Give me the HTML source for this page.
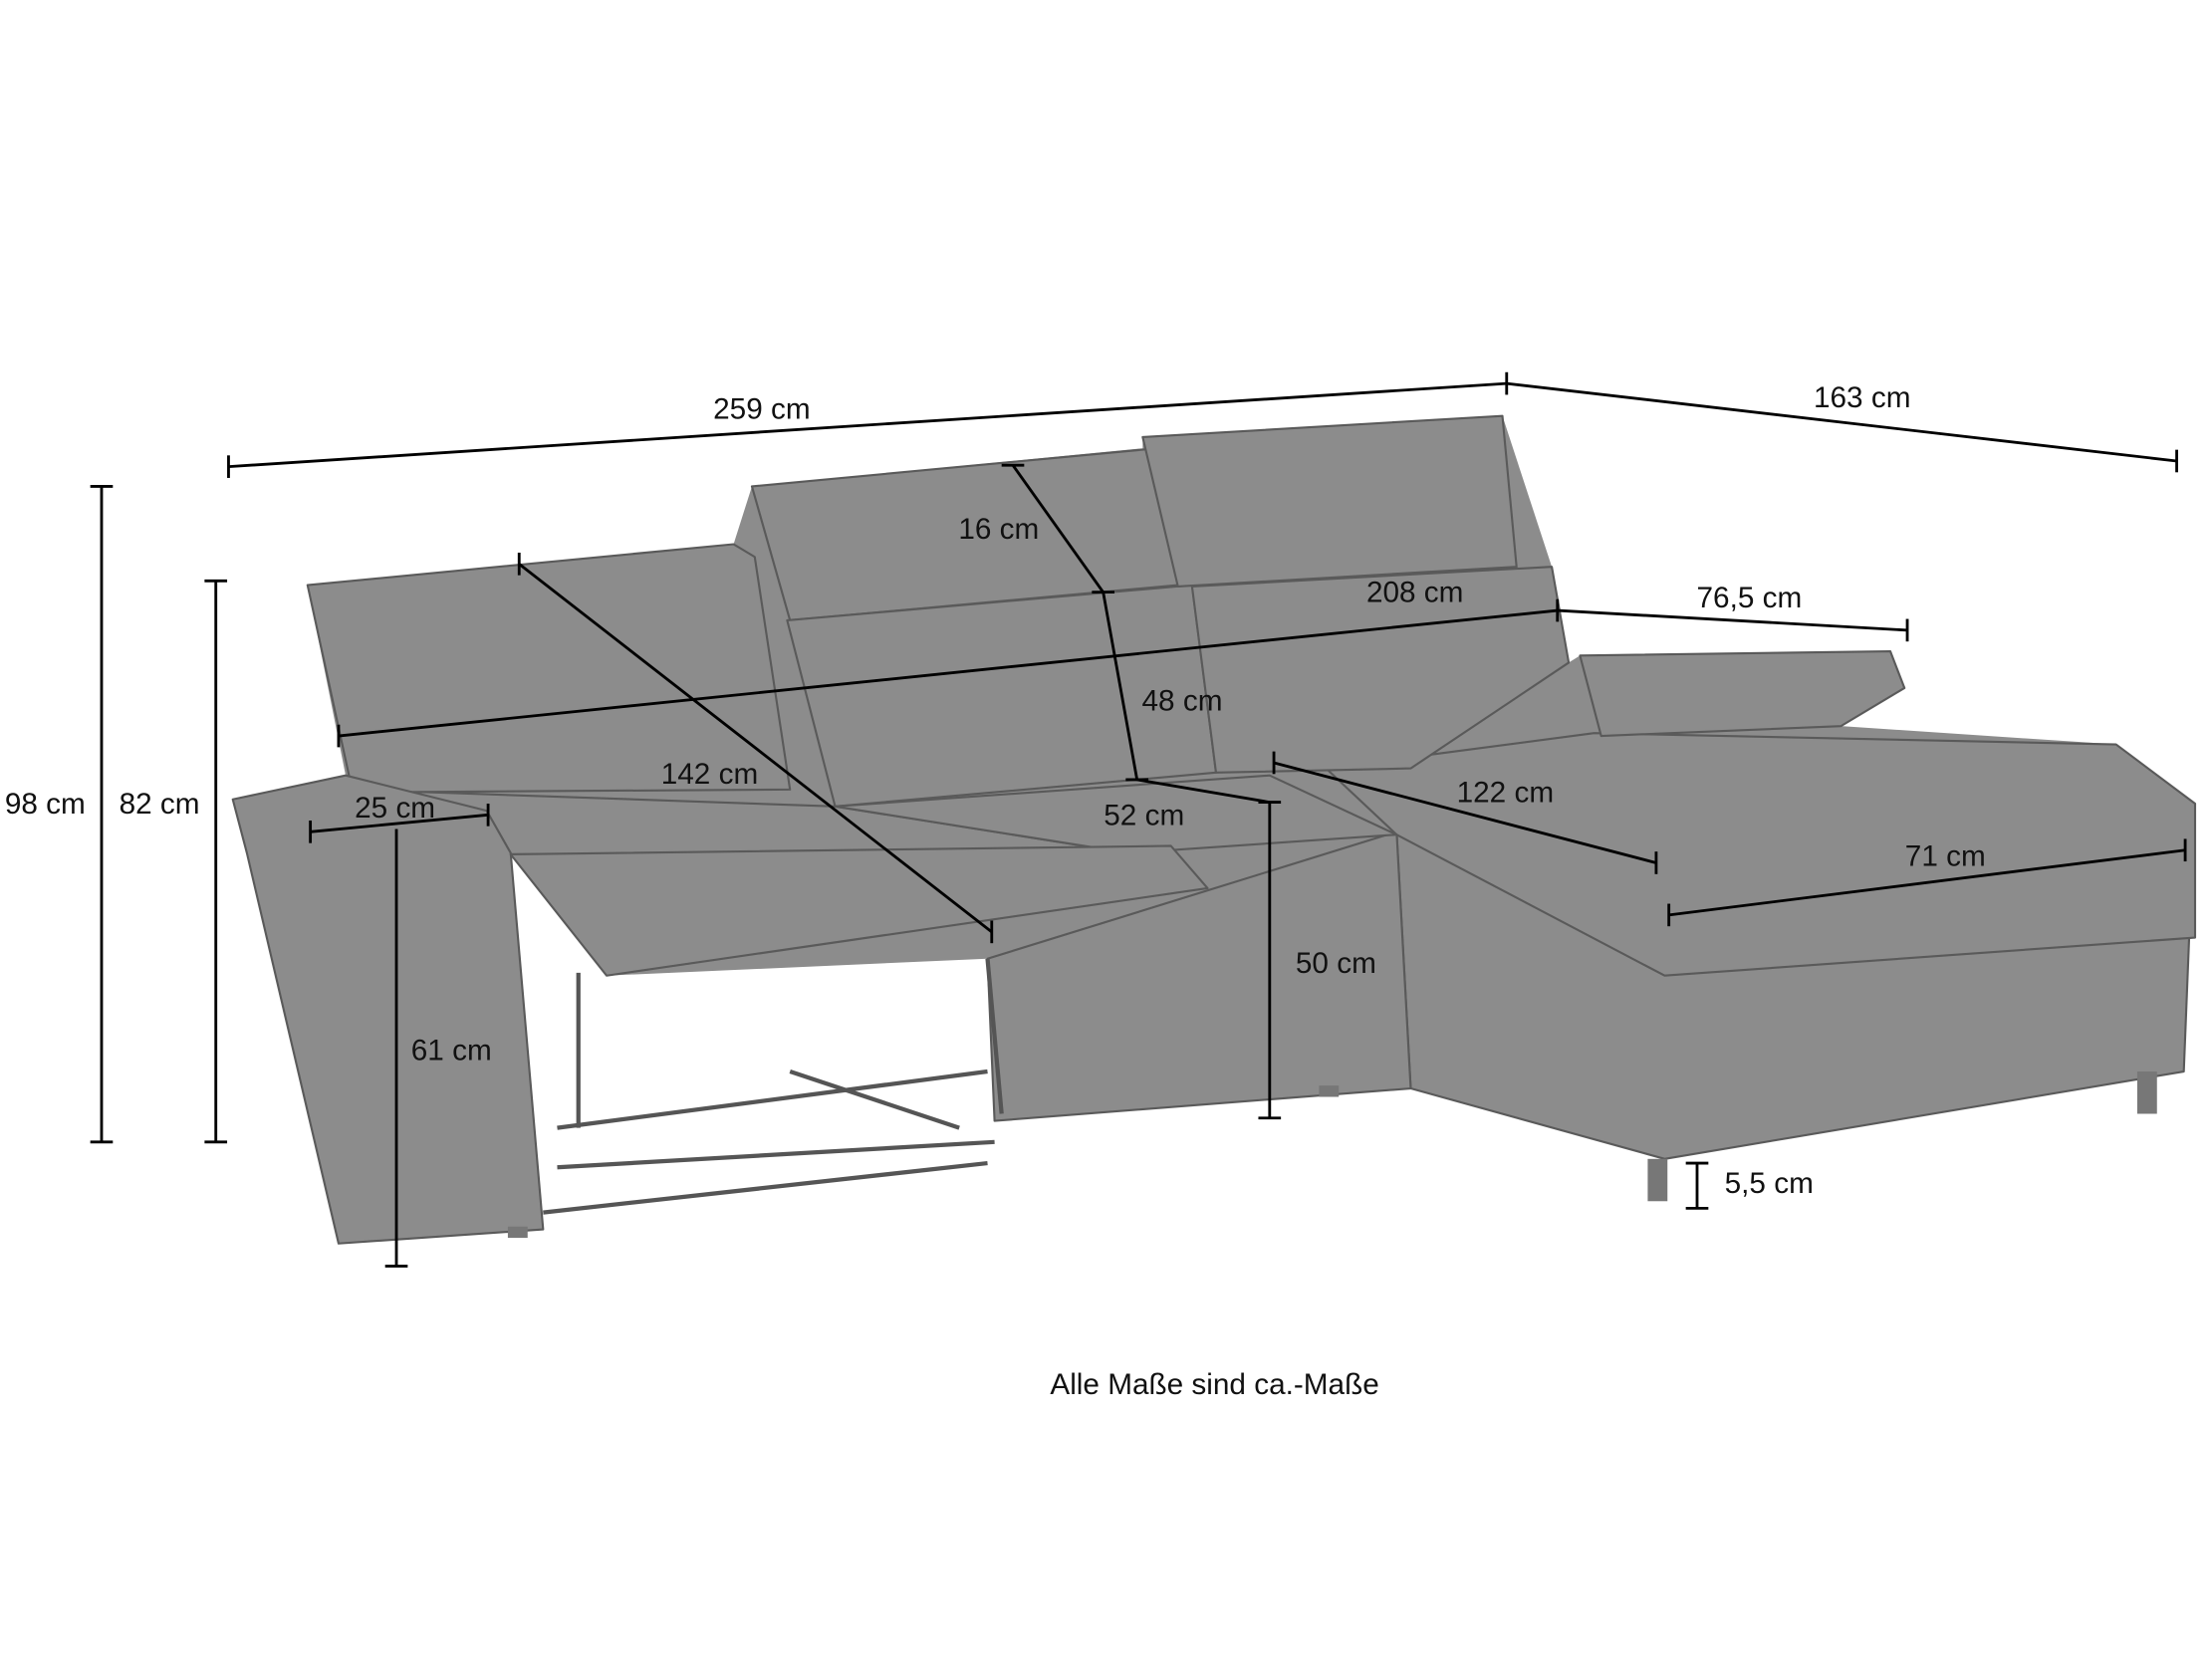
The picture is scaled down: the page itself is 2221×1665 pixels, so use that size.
<!DOCTYPE html>
<html><head><meta charset="utf-8"><style>
html,body{margin:0;padding:0;background:#fff;}
svg{display:block;}
text{font-family:"Liberation Sans Narrow","Liberation Sans",sans-serif;font-size:21px;fill:#111;}
</style></head><body>
<svg width="2221" height="1665" viewBox="0 0 1568 1176" preserveAspectRatio="none" xmlns="http://www.w3.org/2000/svg">
<rect width="1568" height="1176" fill="#fff"/>
<polygon fill="#8c8c8c" points="218,415 520,386 533,345 810,318 810,310 1065,295 1100,402 1112,470 1120,465 1340,462 1350,488 1305,515 1500,528 1556,570 1552,660 1548,760 1180,822 1000,772 705,795 700,680 430,692 362,606 245,550"/>
<g fill="#8c8c8c" stroke="#5a5a5a" stroke-width="1.5" stroke-linejoin="round">
<polygon points="990,590 1180,690 1552,660 1548,760 1180,822 1000,772"/>
<polygon points="700,680 990,590 1000,772 705,795"/>
<polygon points="940,545 1130,520 1500,528 1556,570 1556,665 1180,692 990,592"/>
<polygon points="250,560 592,572 800,605 362,606"/>
<polygon points="218,415 520,386 535,395 560,560 250,562"/>
<polygon points="533,345 820,318 835,415 560,440"/>
<polygon points="558,440 845,415 862,548 592,572"/>
<polygon points="810,310 1065,295 1075,402 835,416"/>
<polygon points="845,416 1100,402 1112,470 1000,545 862,548"/>
<polygon points="1120,465 1340,462 1350,488 1305,515 1135,522"/>
<polygon points="592,572 900,550 990,592 800,605"/>
<polygon points="165,567 245,550 345,575 362,605 385,872 240,882 175,605"/>
<polygon points="362,606 830,600 856,630 430,692"/>
</g>
<g stroke="#555" stroke-width="3" fill="none">
<line x1="395" y1="800" x2="700" y2="760"/>
<line x1="395" y1="828" x2="705" y2="810"/>
<line x1="385" y1="860" x2="700" y2="825"/>
<line x1="560" y1="760" x2="680" y2="800"/>
<line x1="410" y1="690" x2="410" y2="800"/>
<line x1="700" y1="680" x2="710" y2="790"/>
</g>
<g fill="#777"><rect x="1168" y="822" width="14" height="30"/><rect x="1515" y="760" width="14" height="30"/><rect x="360" y="870" width="14" height="8"/><rect x="935" y="770" width="14" height="8"/></g>
<g stroke="#000" stroke-width="2" fill="none">
<line x1="162" y1="331" x2="1068" y2="272"/><line x1="162" y1="323" x2="162" y2="339"/><line x1="1068" y1="264" x2="1068" y2="280"/>
<line x1="1068" y1="272" x2="1543" y2="327"/><line x1="1543" y1="319" x2="1543" y2="335"/>
<line x1="72" y1="345" x2="72" y2="810"/><line x1="64" y1="345" x2="80" y2="345"/><line x1="64" y1="810" x2="80" y2="810"/>
<line x1="153" y1="412" x2="153" y2="810"/><line x1="145" y1="412" x2="161" y2="412"/><line x1="145" y1="810" x2="161" y2="810"/>
<line x1="718" y1="330" x2="782" y2="420"/><line x1="710" y1="330" x2="726" y2="330"/><line x1="774" y1="420" x2="790" y2="420"/>
<line x1="782" y1="420" x2="806" y2="553"/><line x1="798" y1="553" x2="814" y2="553"/>
<line x1="240" y1="522" x2="1104" y2="433"/><line x1="240" y1="514" x2="240" y2="530"/><line x1="1104" y1="425" x2="1104" y2="441"/>
<line x1="1104" y1="433" x2="1352" y2="447"/><line x1="1352" y1="439" x2="1352" y2="455"/>
<line x1="368" y1="400" x2="703" y2="661"/><line x1="368" y1="392" x2="368" y2="408"/><line x1="703" y1="653" x2="703" y2="669"/>
<line x1="806" y1="553" x2="900" y2="569"/>
<line x1="903" y1="541" x2="1174" y2="612"/><line x1="903" y1="533" x2="903" y2="549"/><line x1="1174" y1="604" x2="1174" y2="620"/>
<line x1="1183" y1="649" x2="1549" y2="603"/><line x1="1183" y1="641" x2="1183" y2="657"/><line x1="1549" y1="595" x2="1549" y2="611"/>
<line x1="220" y1="590" x2="346" y2="578"/><line x1="220" y1="582" x2="220" y2="598"/><line x1="346" y1="570" x2="346" y2="586"/>
<line x1="281" y1="588" x2="281" y2="898"/><line x1="273" y1="898" x2="289" y2="898"/>
<line x1="900" y1="569" x2="900" y2="793"/><line x1="892" y1="569" x2="908" y2="569"/><line x1="892" y1="793" x2="908" y2="793"/>
<line x1="1203" y1="825" x2="1203" y2="857"/><line x1="1195" y1="825" x2="1211" y2="825"/><line x1="1195" y1="857" x2="1211" y2="857"/>
</g>
<g text-anchor="middle">
<text x="540" y="297">259 cm</text>
<text x="1320" y="289">163 cm</text>
<text x="32" y="577">98 cm</text>
<text x="113" y="577">82 cm</text>
<text x="708" y="382">16 cm</text>
<text x="838" y="504">48 cm</text>
<text x="1003" y="427">208 cm</text>
<text x="1240" y="431">76,5 cm</text>
<text x="503" y="556">142 cm</text>
<text x="811" y="585">52 cm</text>
<text x="1067" y="569">122 cm</text>
<text x="1379" y="614">71 cm</text>
<text x="280" y="580">25 cm</text>
<text x="320" y="752">61 cm</text>
<text x="947" y="690">50 cm</text>
<text x="1254" y="846">5,5 cm</text>
<text x="861" y="989">Alle Maße sind ca.-Maße</text>
</g>
</svg>
</body></html>
